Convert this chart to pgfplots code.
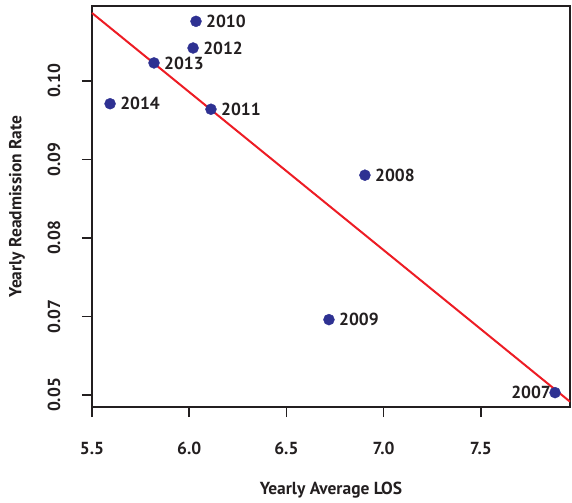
\documentclass[border=0pt]{standalone}
\usepackage{fontspec}
\setmainfont{PT Sans}
\usepackage{pgfplots}
\pgfplotsset{compat=1.18}

\definecolor{ptblue}{HTML}{2E3192}
\definecolor{fitred}{HTML}{ED1C24}
\definecolor{axgray}{HTML}{231F20}

\begin{document}
\begin{tikzpicture}
\begin{axis}[
  scale only axis,
  width=478bp, height=401bp,
  xmin=5.5, xmax=7.959,
  ymin=0.05847, ymax=0.10955,
  xtick={5.5,6.0,6.5,7.0,7.5},
  xticklabels={5.5,6.0,6.5,7.0,7.5},
  ytick={0.06,0.07,0.08,0.09,0.10},
  yticklabels={0.05,0.07,0.08,0.09,0.10},
  tick pos=left,
  tick align=outside,
  major tick length=10bp,
  axis line style={axgray, line width=1.5bp},
  every tick/.style={axgray, line width=1.5bp},
  font=\fontsize{17.5}{20}\selectfont\bfseries,
  ticklabel style={text=axgray},
  xticklabel shift=22bp,
  yticklabel style={rotate=90, anchor=south},
  yticklabel shift=18bp,
  xlabel={Yearly Average LOS},
  ylabel={Yearly Readmission Rate},
  xlabel style={text=axgray, at={(axis description cs:0.5,-0.207)}, anchor=center},
  ylabel style={text=axgray, at={(axis description cs:-0.157,0.5)}, anchor=center},
  clip=false,
]
% fitted line
\addplot[fitred, line width=2bp, no marks] coordinates {(5.5,0.10866) (7.959,0.05915)};

% points with year labels on the right
\addplot[only marks, mark=*, mark size=5.5bp, ptblue,
  nodes near coords, point meta=explicit symbolic,
  every node near coord/.style={anchor=west, xshift=8bp, text=axgray, inner sep=2bp}]
  table[meta=lab] {
  x      y       lab
  6.035  0.1076  2010
  6.020  0.1042  2012
  5.819  0.1023  2013
  5.593  0.0971  2014
  6.112  0.0964  2011
  6.904  0.0880  2008
  6.719  0.0696  2009
};
% 2007 label on the left
\addplot[only marks, mark=*, mark size=5.5bp, ptblue,
  nodes near coords, point meta=explicit symbolic,
  every node near coord/.style={anchor=east, xshift=-3bp, text=axgray, inner sep=1bp}]
  table[meta=lab] {
  x      y       lab
  7.882  0.0603  2007
};
\end{axis}
\path (0,0) ++(-92bp,-96bp) rectangle ++(572bp,503bp);
\end{tikzpicture}
\end{document}
